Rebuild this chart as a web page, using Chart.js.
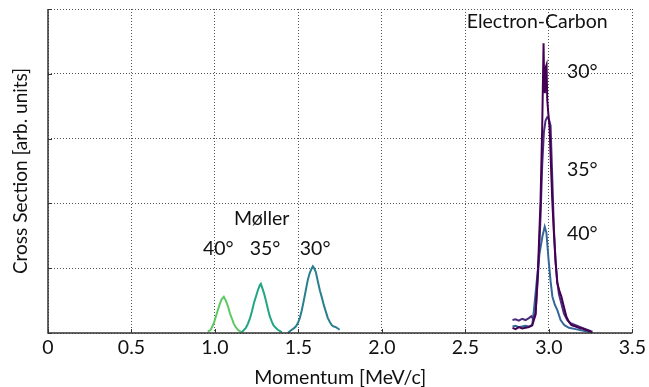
<!DOCTYPE html>
<html>
<head>
<meta charset="utf-8">
<script src="https://cdn.jsdelivr.net/npm/chart.js@4/dist/chart.umd.min.js"></script>
<style>
  body { margin: 0; background: #fff; }
  canvas { display: block; }
</style>
</head>
<body>
<canvas id="chart" width="649" height="387"></canvas>
<script>
// Moller peaks
const mol40x = [0.957, 0.975, 0.993, 1.005, 1.017, 1.029, 1.04, 1.053, 1.065, 1.077, 1.09, 1.102, 1.113, 1.125, 1.137, 1.16];
const mol40y = [0.02, 0.05, 0.15, 0.25, 0.35, 0.45, 0.52, 0.56, 0.5, 0.42, 0.3, 0.22, 0.14, 0.09, 0.05, 0.01];

const mol35x = [1.16, 1.185, 1.197, 1.21, 1.222, 1.233, 1.245, 1.257, 1.269, 1.275, 1.28, 1.293, 1.305, 1.317, 1.328, 1.34, 1.35, 1.364, 1.376, 1.39, 1.40];
const mol35y = [0.01, 0.08, 0.14, 0.23, 0.34, 0.46, 0.56, 0.66, 0.74, 0.76, 0.72, 0.62, 0.5, 0.37, 0.26, 0.18, 0.12, 0.08, 0.05, 0.03, 0.01];

const mol30x = [1.436, 1.45, 1.46, 1.472, 1.484, 1.496, 1.508, 1.52, 1.532, 1.544, 1.556, 1.568, 1.58, 1.586, 1.592, 1.604, 1.616, 1.628, 1.64, 1.652, 1.664, 1.676, 1.688, 1.70, 1.712, 1.724, 1.736, 1.747];
const mol30y = [0.0, 0.03, 0.05, 0.07, 0.1, 0.15, 0.23, 0.35, 0.5, 0.66, 0.82, 0.93, 1.0, 1.03, 1.01, 0.94, 0.8, 0.66, 0.55, 0.43, 0.33, 0.23, 0.17, 0.12, 0.1, 0.09, 0.07, 0.05];

// Electron-Carbon peaks
const car30x = [2.782, 2.80, 2.82, 2.84, 2.86, 2.88, 2.90, 2.92, 2.935, 2.95, 2.96, 2.968, 2.972, 2.976, 2.981, 2.986, 2.99, 2.996, 3.004, 3.02, 3.03, 3.04, 3.05, 3.063, 3.075, 3.09, 3.105, 3.12, 3.135, 3.16, 3.18, 3.2, 3.22, 3.243, 3.26];
const car30y = [0.08, 0.06, 0.09, 0.07, 0.08, 0.09, 0.12, 0.28, 1.0, 2.05, 3.2, 4.47, 3.8, 3.7, 4.1, 4.14, 3.6, 3.4, 3.18, 2.05, 1.54, 1.1, 0.77, 0.65, 0.56, 0.4, 0.25, 0.17, 0.12, 0.1, 0.08, 0.07, 0.05, 0.03, 0.0];

const car35x = [2.782, 2.80, 2.82, 2.84, 2.86, 2.88, 2.895, 2.905, 2.92, 2.935, 2.95, 2.96, 2.97, 2.98, 2.99, 3.0, 3.01, 3.02, 3.03, 3.04, 3.05, 3.06, 3.075, 3.09, 3.11, 3.13, 3.16, 3.2, 3.24, 3.26];
const car35y = [0.2, 0.21, 0.19, 0.22, 0.2, 0.23, 0.26, 0.22, 0.3, 0.9, 1.8, 2.6, 3.1, 3.28, 3.33, 3.3, 3.2, 2.4, 1.6, 1.1, 0.8, 0.6, 0.45, 0.3, 0.2, 0.15, 0.12, 0.08, 0.04, 0.02];

const car40x = [2.782, 2.80, 2.82, 2.84, 2.86, 2.88, 2.90, 2.91, 2.926, 2.944, 2.962, 2.975, 2.985, 2.998, 3.01, 3.021, 3.035, 3.051, 3.07, 3.093, 3.12, 3.16, 3.2, 3.24, 3.26];
const car40y = [0.1, 0.11, 0.09, 0.1, 0.11, 0.1, 0.12, 0.35, 0.77, 1.23, 1.5, 1.64, 1.55, 1.13, 0.8, 0.56, 0.44, 0.35, 0.2, 0.12, 0.08, 0.06, 0.04, 0.02, 0.01];

const xTicks = [0, 0.5, 1, 1.5, 2, 2.5, 3, 3.5];

// text labels placed in data units
const notes = [
  {text: 'Electron-Carbon', x: 2.93, y: 4.80},
  {text: '30°', x: 3.20, y: 4.03},
  {text: '35°', x: 3.20, y: 2.52},
  {text: '40°', x: 3.20, y: 1.53},
  {text: 'Møller', x: 1.28, y: 1.77},
  {text: '40°', x: 1.02, y: 1.30},
  {text: '35°', x: 1.30, y: 1.30},
  {text: '30°', x: 1.60, y: 1.30}
];

const pts = (xs, ys) => xs.map((x, i) => ({x: x, y: ys[i]}));

const series = [
  {label: 'Carbon 30', data: pts(car30x, car30y), color: '#440154'},
  {label: 'Carbon 35', data: pts(car35x, car35y), color: '#472d7b'},
  {label: 'Carbon 40', data: pts(car40x, car40y), color: '#33679a'},
  {label: 'Moller 30', data: pts(mol30x, mol30y), color: '#2a7f8e'},
  {label: 'Moller 35', data: pts(mol35x, mol35y), color: '#21a585'},
  {label: 'Moller 40', data: pts(mol40x, mol40y), color: '#5ec962'}
];

const notesPlugin = {
  id: 'notes',
  afterDatasetsDraw(chart) {
    const {ctx, scales: {x, y}} = chart;
    ctx.save();
    ctx.font = '19.5px Lato';
    ctx.fillStyle = '#111';
    ctx.textAlign = 'center';
    ctx.textBaseline = 'middle';
    notes.forEach(n => ctx.fillText(n.text, x.getPixelForValue(n.x), y.getPixelForValue(n.y)));
    ctx.restore();
  }
};

// solid left/bottom axis lines plus short inward ticks
const framePlugin = {
  id: 'frame',
  beforeDraw(chart) {
    const ctx = chart.ctx;
    ctx.save();
    ctx.fillStyle = '#fff';
    ctx.fillRect(0, 0, chart.width, chart.height);
    ctx.restore();
  },
  afterDraw(chart) {
    const {ctx, chartArea: a, scales: {x, y}} = chart;
    ctx.save();
    ctx.strokeStyle = '#333';
    ctx.lineWidth = 1.5;
    ctx.beginPath();
    ctx.moveTo(a.left, a.top);
    ctx.lineTo(a.left, a.bottom);
    ctx.lineTo(a.right, a.bottom);
    ctx.stroke();
    ctx.lineWidth = 1;
    ctx.beginPath();
    x.ticks.forEach(t => {
      const px = Math.round(x.getPixelForValue(t.value)) + 0.5;
      ctx.moveTo(px, a.bottom);
      ctx.lineTo(px, a.bottom - 4);
    });
    y.ticks.forEach(t => {
      const py = Math.round(y.getPixelForValue(t.value)) + 0.5;
      ctx.moveTo(a.left, py);
      ctx.lineTo(a.left + 4, py);
    });
    ctx.stroke();
    ctx.restore();
  }
};

const cfg = {
  type: 'line',
  data: {
    datasets: series.map(s => ({
      label: s.label,
      data: s.data,
      borderColor: s.color,
      borderWidth: 2,
      pointRadius: 0,
      tension: 0,
      fill: false
    }))
  },
  options: {
    responsive: false,
    animation: false,
    devicePixelRatio: 1,
    layout: {padding: {top: 9, right: 16, left: 0, bottom: 0}},
    plugins: {legend: {display: false}, tooltip: {enabled: false}},
    scales: {
      x: {
        type: 'linear',
        min: 0,
        max: 3.5,
        afterBuildTicks: s => { s.ticks = xTicks.map(v => ({value: v})); },
        afterFit: s => { s.height = 54; },
        ticks: {
          color: '#111',
          font: {family: 'Lato', size: 19.5},
          padding: 3,
          maxRotation: 0
        },
        grid: {color: '#555', lineWidth: 1, drawTicks: false},
        border: {display: false, dash: [1, 2]},
        title: {
          display: true,
          text: 'Momentum [MeV/c]',
          color: '#111',
          font: {family: 'Lato', size: 19.5, lineHeight: 1},
          padding: 0
        }
      },
      y: {
        min: 0,
        max: 5,
        afterFit: s => { s.width = 48; },
        ticks: {display: false, stepSize: 1},
        grid: {color: '#555', lineWidth: 1, drawTicks: false},
        border: {display: false, dash: [1, 2]},
        title: {
          display: true,
          text: 'Cross Section [arb. units]',
          color: '#111',
          font: {family: 'Lato', size: 19, lineHeight: 1},
          padding: 11
        }
      }
    }
  },
  plugins: [framePlugin, notesPlugin]
};

const chart = new Chart(document.getElementById('chart'), cfg);
</script>
</body>
</html>
